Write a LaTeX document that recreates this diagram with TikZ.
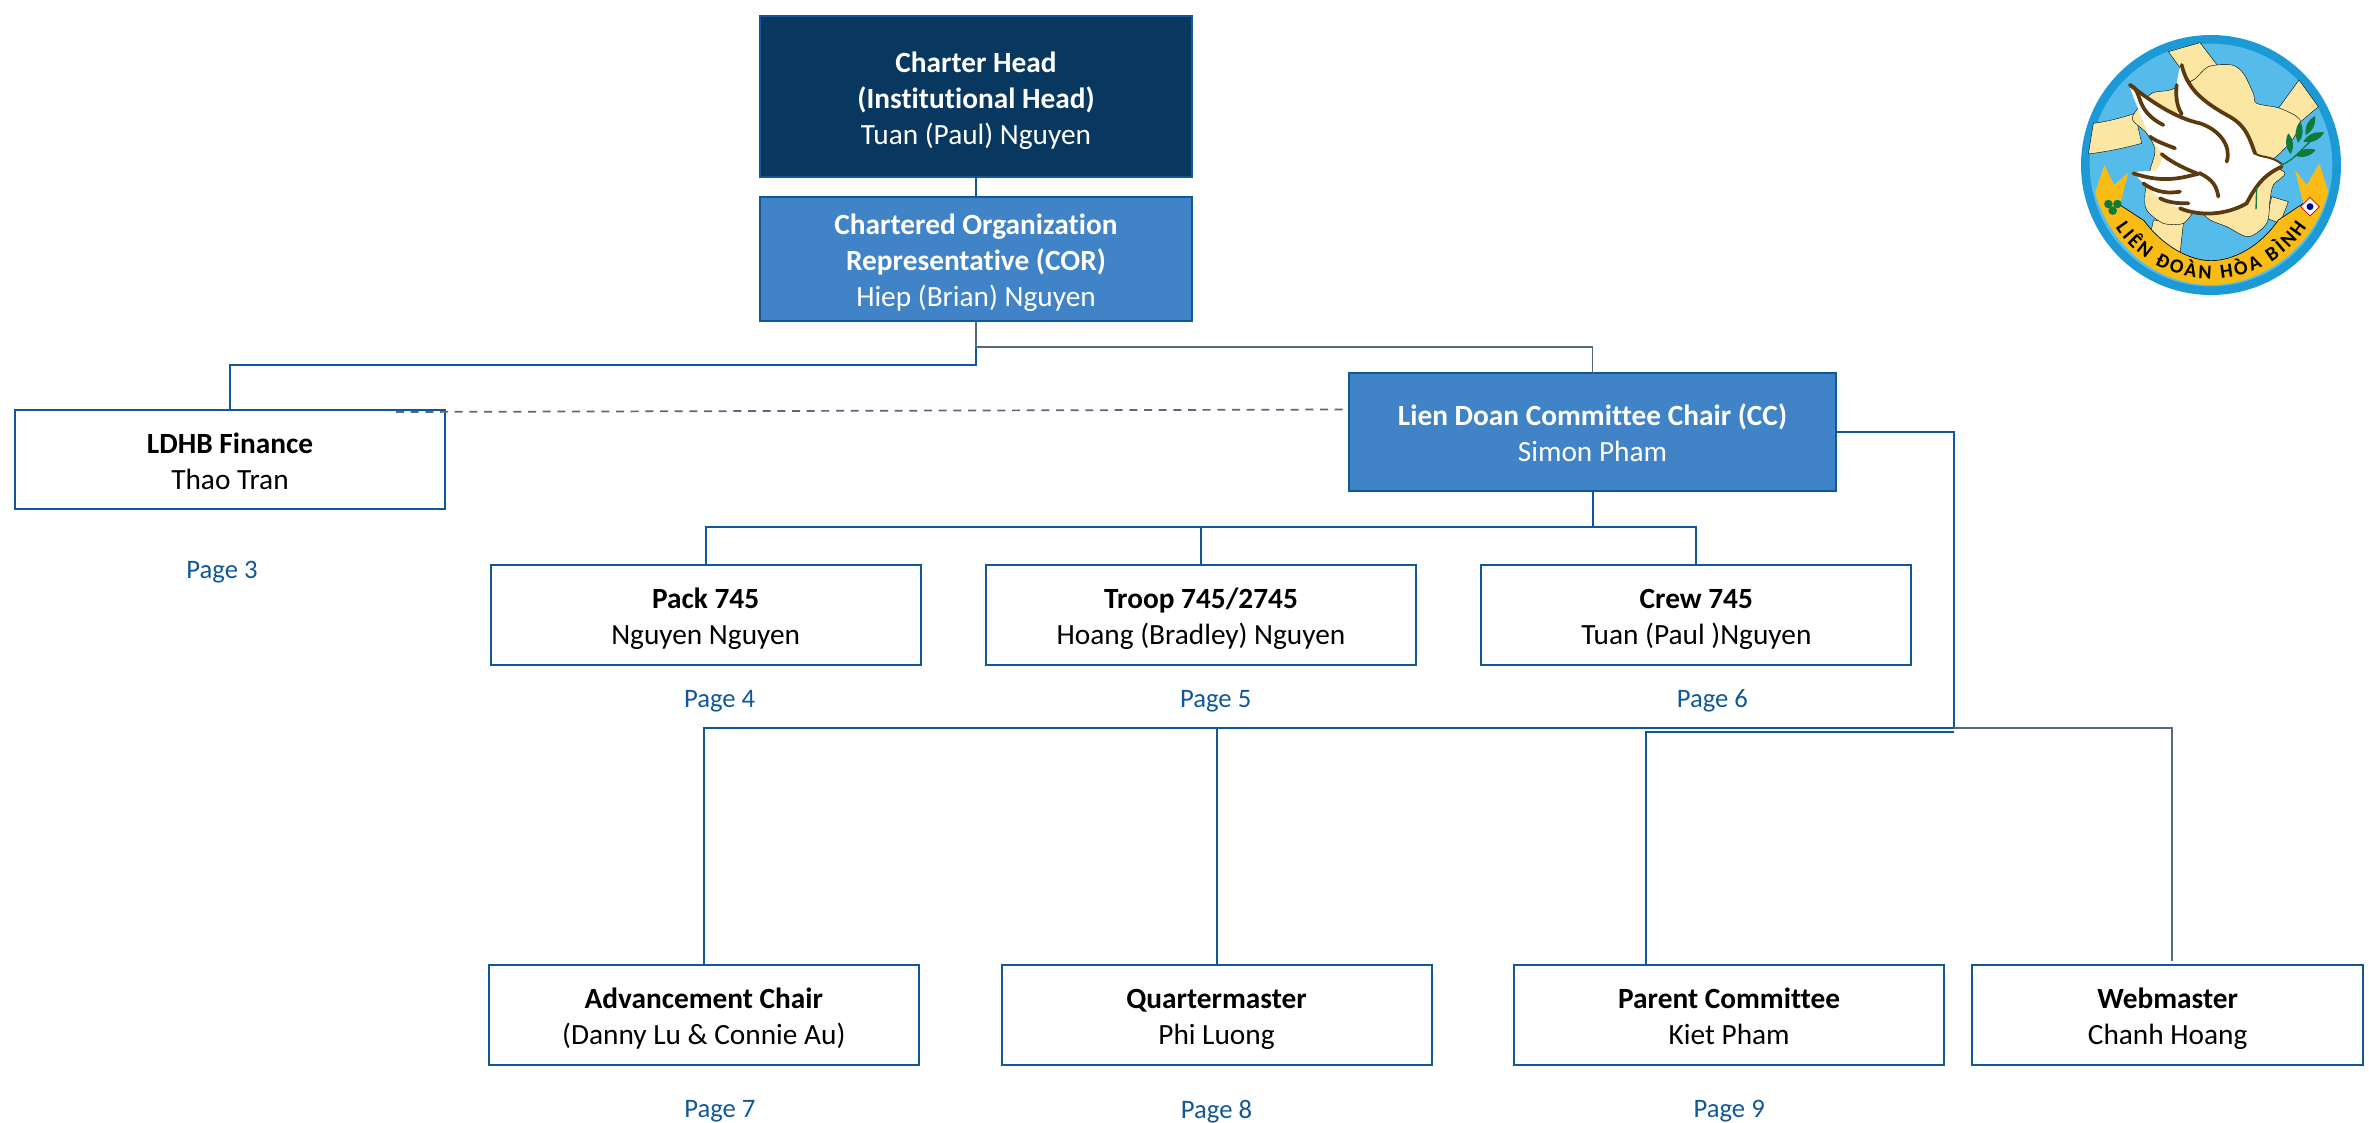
\documentclass[tikz,border=0pt]{standalone}
\usepackage{fontspec}
\setmainfont{Carlito}[Ligatures=NoCommon]
\usetikzlibrary{positioning, decorations.text}
\definecolor{headblue}{HTML}{08375F}
\definecolor{midblue}{HTML}{4083C7}
\definecolor{edgeblue}{HTML}{11589A}
\definecolor{linegray}{HTML}{56697F}
\definecolor{logoblue}{HTML}{55BBEB}
\definecolor{logorim}{HTML}{1B9AD6}
\definecolor{logocream}{HTML}{FBE6A4}
\definecolor{logogold}{HTML}{F9BC15}
\definecolor{logobrown}{HTML}{5C3A10}
\definecolor{logogreen}{HTML}{0F7A3A}
\newcommand{\firstline}[1]{\rule{0pt}{21.5pt}\textbf{#1}}
\tikzset{
    orgbox/.style={draw=edgeblue, line width=1.5pt, outer sep=0pt, inner sep=2pt, align=center, font=\fontsize{22}{27}\selectfont,
        execute at end node={\vphantom{(y}}},
    fullnode/.style={orgbox, fill=white, minimum width=322.5pt, minimum height=75pt},
    headnode/.style={orgbox, fill=headblue, text=white, minimum width=324pt, minimum height=120.75pt},
    midnode/.style={orgbox, fill=midblue, text=white, line width=2pt},
    pagenode/.style={text=edgeblue, inner sep=0pt, font=\fontsize{20}{24}\selectfont},
    link/.style={draw=edgeblue, line width=1.5pt},
    graylink/.style={draw=linegray, line width=1.3pt},
    brownline/.style={draw=logobrown, line width=2.8pt, line cap=round}
}
\begin{document}
\begin{tikzpicture}[x=0.75pt, y=-0.75pt]
        \useasboundingbox (0,0) rectangle (2369,1123);

        \node[headnode] (charter) at (976,96.5) {\firstline{Charter Head}\\\textbf{(Institutional Head)}\\Tuan (Paul) Nguyen};
        \node[midnode, minimum width=324pt, minimum height=93pt] (cor) [below=15pt of charter] {\firstline{Chartered Organization}\\\textbf{Representative (COR)}\\Hiep (Brian) Nguyen};
        \node[fullnode, minimum height=74.25pt] (finance) at (230,459.5) {\firstline{LDHB Finance}\\Thao Tran};
        \node[midnode, minimum width=365.25pt, minimum height=88.5pt] (cc) at (1592.5,432) {\firstline{Lien Doan Committee Chair (CC)}\\Simon Pham};

        \node[fullnode] (troop) at (1201,615) {\firstline{Troop 745/2745}\\Hoang (Bradley) Nguyen};
        \node[fullnode] (pack) [left=49pt of troop] {\firstline{Pack 745}\\Nguyen Nguyen};
        \node[fullnode] (crew) [right=49pt of troop] {\firstline{Crew 745}\\Tuan (Paul )Nguyen};

        \node[fullnode] (quartermaster) at (1216.5,1015) {\firstline{Quartermaster}\\Phi Luong};
        \node[fullnode] (advancement) [left=62pt of quartermaster] {\firstline{Advancement Chair}\\(Danny Lu \& Connie Au)};
        \node[fullnode] (parent) [right=62pt of quartermaster] {\firstline{Parent Committee}\\Kiet Pham};
        \node[fullnode, minimum width=293.25pt] (webmaster) [right=21pt of parent] {\firstline{Webmaster}\\Chanh Hoang};

        \node[pagenode] (page3) [below=39pt of finance, xshift=-6pt] {Page 3};
        \node[pagenode] (page4) [below=18.5pt of pack, xshift=10.5pt] {Page 4};
        \node[pagenode] (page5) [below=18.5pt of troop, xshift=11pt] {Page 5};
        \node[pagenode] (page6) [below=18.5pt of crew, xshift=12pt] {Page 6};
        \node[pagenode] (page7) [below=26pt of advancement, xshift=12pt] {Page 7};
        \node[pagenode] (page8) [below=26pt of quartermaster] {Page 8};
        \node[pagenode] (page9) [below=26pt of parent] {Page 9};

        \coordinate (dashfrom) at (396,412);
        \coordinate (dashto) at (1349,409.5);
        \coordinate (sidebus) at (1954,728);
        \coordinate (lowbus) at (1954,732);
        \coordinate (parentin) at (1646,965);
        \coordinate (webin) at (2172,961);

        \draw[link] (charter) -- (cor);
        \draw[link] (cor.south) -- ++(0,44) -| (finance.north);
        \draw[graylink] (cor.south) -- ++(0,26) -| (cc.north);
        \draw[graylink, dashed, dash pattern=on 6pt off 5pt] (dashfrom) -- (dashto);

        \draw[link] (cc.south) -- ++(0,36) -| (pack.north);
        \draw[link] (cc.south) -- ++(0,36) -| (troop.north);
        \draw[link] (cc.south) -- ++(0,36) -| (crew.north);

        \draw[link] (cc.east) -| (sidebus);
        \draw[link] (sidebus) -| (advancement.north);
        \draw[link] (sidebus) -| (quartermaster.north);
        \draw[link] (lowbus) -| (parentin);
        \draw[graylink] (sidebus) -| (webin);

        % logo
        \begin{scope}[shift={(2040,10)}, x=0.25pt, y=-0.25pt]
            \fill[logorim] (513,465) circle[radius=97.5pt];
            \fill[logoblue] (513,465) circle[radius=91pt];
            \filldraw[logocream, draw=black, line width=0.3pt] (385,125) -- (480,98) -- (535,170) -- (450,215) -- cycle;
            \filldraw[logocream, draw=black, line width=0.3pt] (715,295) -- (777,210) -- (835,290) -- (770,345) -- cycle;
            \filldraw[logocream, draw=black, line width=0.3pt] (160,340) .. controls (200,335) and (240,325) .. (285,310) -- (305,400) .. controls (250,415) and (200,425) .. (145,432) -- cycle;
            \filldraw[logocream, draw=black, line width=0.3pt] (340,630) -- (430,640) -- (420,732) .. controls (390,715) and (360,700) .. (330,680) -- cycle;
            \filldraw[logocream, draw=black, line width=0.3pt] (695,560) -- (745,575) -- (720,640) -- (680,625) -- cycle;
            \filldraw[logocream, draw=black, line width=0.3pt] plot[smooth cycle, tension=0.5] coordinates {(460,210) (505,170) (575,165) (610,190) (640,250) (650,280) (720,295) (780,330) (760,385) (720,430) (690,460) (735,490) (700,525) (690,570) (680,640) (625,680) (560,650) (510,630) (470,600) (430,640) (370,640) (320,600) (315,550) (330,480) (345,420) (320,370) (278,330) (290,300) (335,250) (390,240)};
            \fill[logogold] (165,548) -- (193,465) -- (222,525) -- (265,488) -- (240,585) -- (312,632) .. controls (370,710) and (450,752) .. (513,752) .. controls (580,752) and (660,710) .. (715,630) -- (790,580) -- (765,480) -- (800,525) -- (838,460) -- (865,545) .. controls (820,720) and (660,825) .. (513,825) .. controls (360,825) and (215,720) .. (165,548) -- cycle;
            \draw[black, line width=0.5pt] (240,585) -- (312,632) .. controls (370,710) and (450,752) .. (513,752) .. controls (580,752) and (660,710) .. (715,630) -- (790,580);
            \fill[white] plot[smooth cycle, tension=0.45] coordinates {(425,165) (460,250) (560,315) (625,375) (650,430) (690,445) (725,462) (700,482) (640,540) (590,600) (530,612) (420,595) (360,565) (285,490) (350,480) (365,432) (330,380) (300,310) (270,225) (340,280) (410,310) (410,225)};
            \draw[brownline] (425,165) .. controls (440,230) and (480,270) .. (560,315) .. controls (620,345) and (630,390) .. (645,430);
            \draw[brownline] (270,225) .. controls (310,240) and (280,300) .. (370,345);
            \draw[brownline] (270,225) .. controls (340,280) and (410,325) .. (480,340) .. controls (540,360) and (575,410) .. (560,455);
            \draw[brownline] (410,225) .. controls (405,270) and (415,295) .. (425,312);
            \draw[brownline] (330,380) .. controls (350,395) and (380,405) .. (405,415);
            \draw[brownline] (365,432) .. controls (385,450) and (420,470) .. (470,490);
            \draw[brownline] (280,490) .. controls (370,520) and (420,505) .. (480,490) .. controls (520,510) and (530,530) .. (535,560);
            \draw[brownline] (310,520) .. controls (350,550) and (390,550) .. (420,545);
            \draw[brownline] (360,565) .. controls (390,580) and (420,580) .. (445,580);
            \draw[brownline] (420,595) .. controls (480,620) and (560,615) .. (620,580) .. controls (650,520) and (680,490) .. (725,470);
            \draw[brownline, line width=1.5pt] (645,430) .. controls (665,445) and (690,435) .. (725,462);
            \draw[logogreen, line width=1pt] (725,465) .. controls (780,440) and (790,400) .. (850,367);
            \draw[logogreen, line width=1pt] (650,530) -- (648,598);
            \foreach \ax/\ay/\bx/\by in {745/370/752/432, 780/335/775/398, 825/318/797/375, 852/368/790/395, 827/420/765/437}
                \fill[logogreen] (\ax,\ay) to[bend left=35] (\bx,\by) to[bend left=35] (\ax,\ay);
            \foreach \ox/\oy in {205/582, 232/582, 218/602}
                \fill[logogreen] (\ox,\oy) circle[radius=3.2pt];
            \filldraw[white, draw=red!80!black, line width=0.5pt] (810,562) -- (838,590) -- (810,618) -- (782,590) -- cycle;
            \fill[blue!60!black] (810,590) circle[radius=2.6pt];
            \path[decorate, decoration={text along path, text align=fit to path, text={|\fontsize{15}{15}\selectfont\bfseries|LIÊN ĐOÀN HÒA BÌNH}}] ([shift={(147:342)}]513,465) arc[start angle=147, end angle=33, radius=342];
        \end{scope}
    \end{tikzpicture}
\end{document}
